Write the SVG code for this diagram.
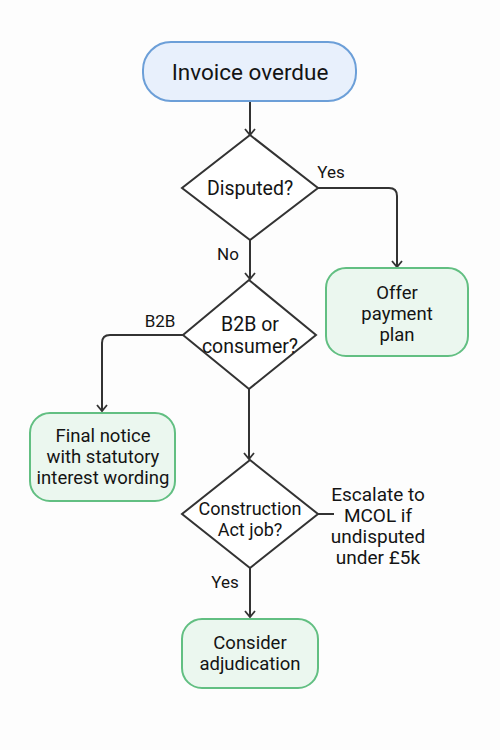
<svg xmlns="http://www.w3.org/2000/svg" width="500" height="750" viewBox="0 0 500 750">
<defs>
<marker id="arr" viewBox="0 0 12 12" refX="10" refY="6" markerWidth="12" markerHeight="12" markerUnits="userSpaceOnUse" orient="auto-start-reverse">
<path d="M4,1 L10,6 L4,11" fill="none" stroke="#333" stroke-width="1.8"/>
</marker>
<style>
text{font-family:Roboto,"Liberation Sans",sans-serif;fill:#141414;text-anchor:middle}
.t{font-size:22.5px}
.n{font-size:18.5px}
.d{font-size:19.5px}
.s{font-size:18px}
.l{font-size:17px}
.e{font-size:19px}
.start{fill:#e8f0fc;stroke:#6c9fd8;stroke-width:2}
.end{fill:#ebf7ef;stroke:#62bf82;stroke-width:2}
.dec{fill:#ffffff;stroke:#333;stroke-width:2}
.c{fill:none;stroke:#333;stroke-width:2}
</style>
</defs>
<rect width="500" height="750" fill="#fdfdfd"/>
<g id="connectors">
<path class="c" d="M250,101 V135" marker-end="url(#arr)"/>
<path class="c" d="M318,188 H389 Q397,188 397,196 V267" marker-end="url(#arr)"/>
<path class="c" d="M250,240 V279" marker-end="url(#arr)"/>
<path class="c" d="M183,335 H110 Q102,335 102,343 V411" marker-end="url(#arr)"/>
<path class="c" d="M249,389 V459" marker-end="url(#arr)"/>
<path class="c" d="M318,514 H334"/>
<path class="c" d="M250,568 V617" marker-end="url(#arr)"/>
<text class="l" x="331" y="178">Yes</text>
<text class="l" x="228" y="260">No</text>
<text class="l" x="160" y="327">B2B</text>
<text class="l" x="225" y="588">Yes</text>
<text class="e" x="378" y="501">Escalate to</text>
<text class="e" x="378" y="522">MCOL if</text>
<text class="e" x="378" y="543">undisputed</text>
<text class="e" x="378" y="564">under £5k</text>
</g>
<g id="start">
<rect class="start" x="143" y="42" width="213" height="59" rx="28"/>
<text class="t" x="250" y="80">Invoice overdue</text>
</g>
<g id="disputed">
<polygon class="dec" points="250,135 318,188 250,240 182,188"/>
<text class="d" x="250" y="195">Disputed?</text>
</g>
<g id="offer">
<rect class="end" x="326" y="268" width="142" height="88" rx="20"/>
<text class="n" x="397" y="299">Offer</text>
<text class="n" x="397" y="320">payment</text>
<text class="n" x="397" y="341">plan</text>
</g>
<g id="b2b">
<polygon class="dec" points="249,280 316,335 249,389 183,335"/>
<text class="d" x="250" y="331">B2B or</text>
<text class="d" x="250" y="353">consumer?</text>
</g>
<g id="final">
<rect class="end" x="30" y="413" width="145" height="88" rx="20"/>
<text class="n" x="103" y="442">Final notice</text>
<text class="n" x="103" y="463">with statutory</text>
<text class="n" x="103" y="484">interest wording</text>
</g>
<g id="construction">
<polygon class="dec" points="250,460 318,514 250,568 182,514"/>
<text class="s" x="250" y="515">Construction</text>
<text class="s" x="250" y="536">Act job?</text>
</g>
<g id="adjudication">
<rect class="end" x="182" y="619" width="136" height="69" rx="20"/>
<text class="n" x="250" y="649">Consider</text>
<text class="n" x="250" y="670">adjudication</text>
</g>
</svg>
